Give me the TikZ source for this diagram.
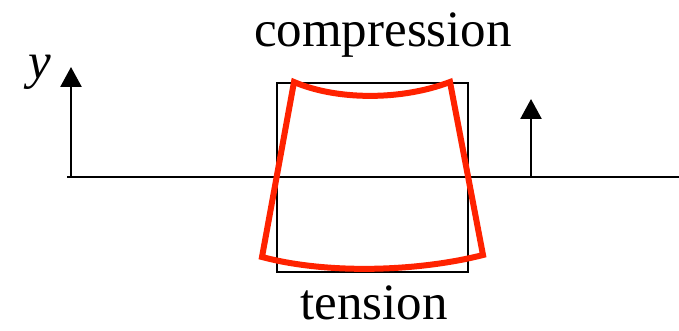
\documentclass[tikz,border=0pt]{standalone}
\usepackage{fontspec}
\setmainfont{Liberation Serif}
\usetikzlibrary{arrows.meta}
\definecolor{rojo}{HTML}{FF2200}

\begin{document}
\begin{tikzpicture}[
  x=1pt, y=-1pt,
  font=\fontsize{51}{60}\selectfont,
  eje/.style={line width=2.6pt},
  flecha/.style={-{Triangle[length=20pt, width=21pt]}, line width=2.6pt},
  caja/.style={draw, line width=1.8pt},
  deform/.style={draw=rojo, line width=6pt, line join=miter},
  etiq/.style={anchor=base, inner sep=0pt}
]
  \useasboundingbox (0,0) rectangle (679,331);

  % --- eje horizontal
  \coordinate (ejeA) at (67,177);
  \coordinate (ejeB) at (679,177);
  \draw[eje] (ejeA) -- (ejeB);

  % --- flechas verticales
  \coordinate (izqA) at (71,177);
  \coordinate (izqB) at (71,67);
  \draw[flecha] (izqA) -- (izqB);
  \node[etiq, anchor=base west] (ylab) at (28,79) {\itshape y};
  \coordinate (derA) at (531,177);
  \coordinate (derB) at (531,99);
  \draw[flecha] (derA) -- (derB);

  % --- elemento sin deformar
  \node[caja, minimum width=191pt, minimum height=189pt] (elem) at (372.5,177.5) {};

  % --- elemento deformado
  \path[deform] (294,82) .. controls (336,100) and (400,101) .. (450,82)
    -- (483,255) .. controls (420,271) and (330,275) .. (262,257) -- cycle;

  % --- textos
  \node[etiq] (comp) at (383,47) {compression};
  \node[etiq] (tens) at (374,319) {tension};
\end{tikzpicture}
\end{document}
